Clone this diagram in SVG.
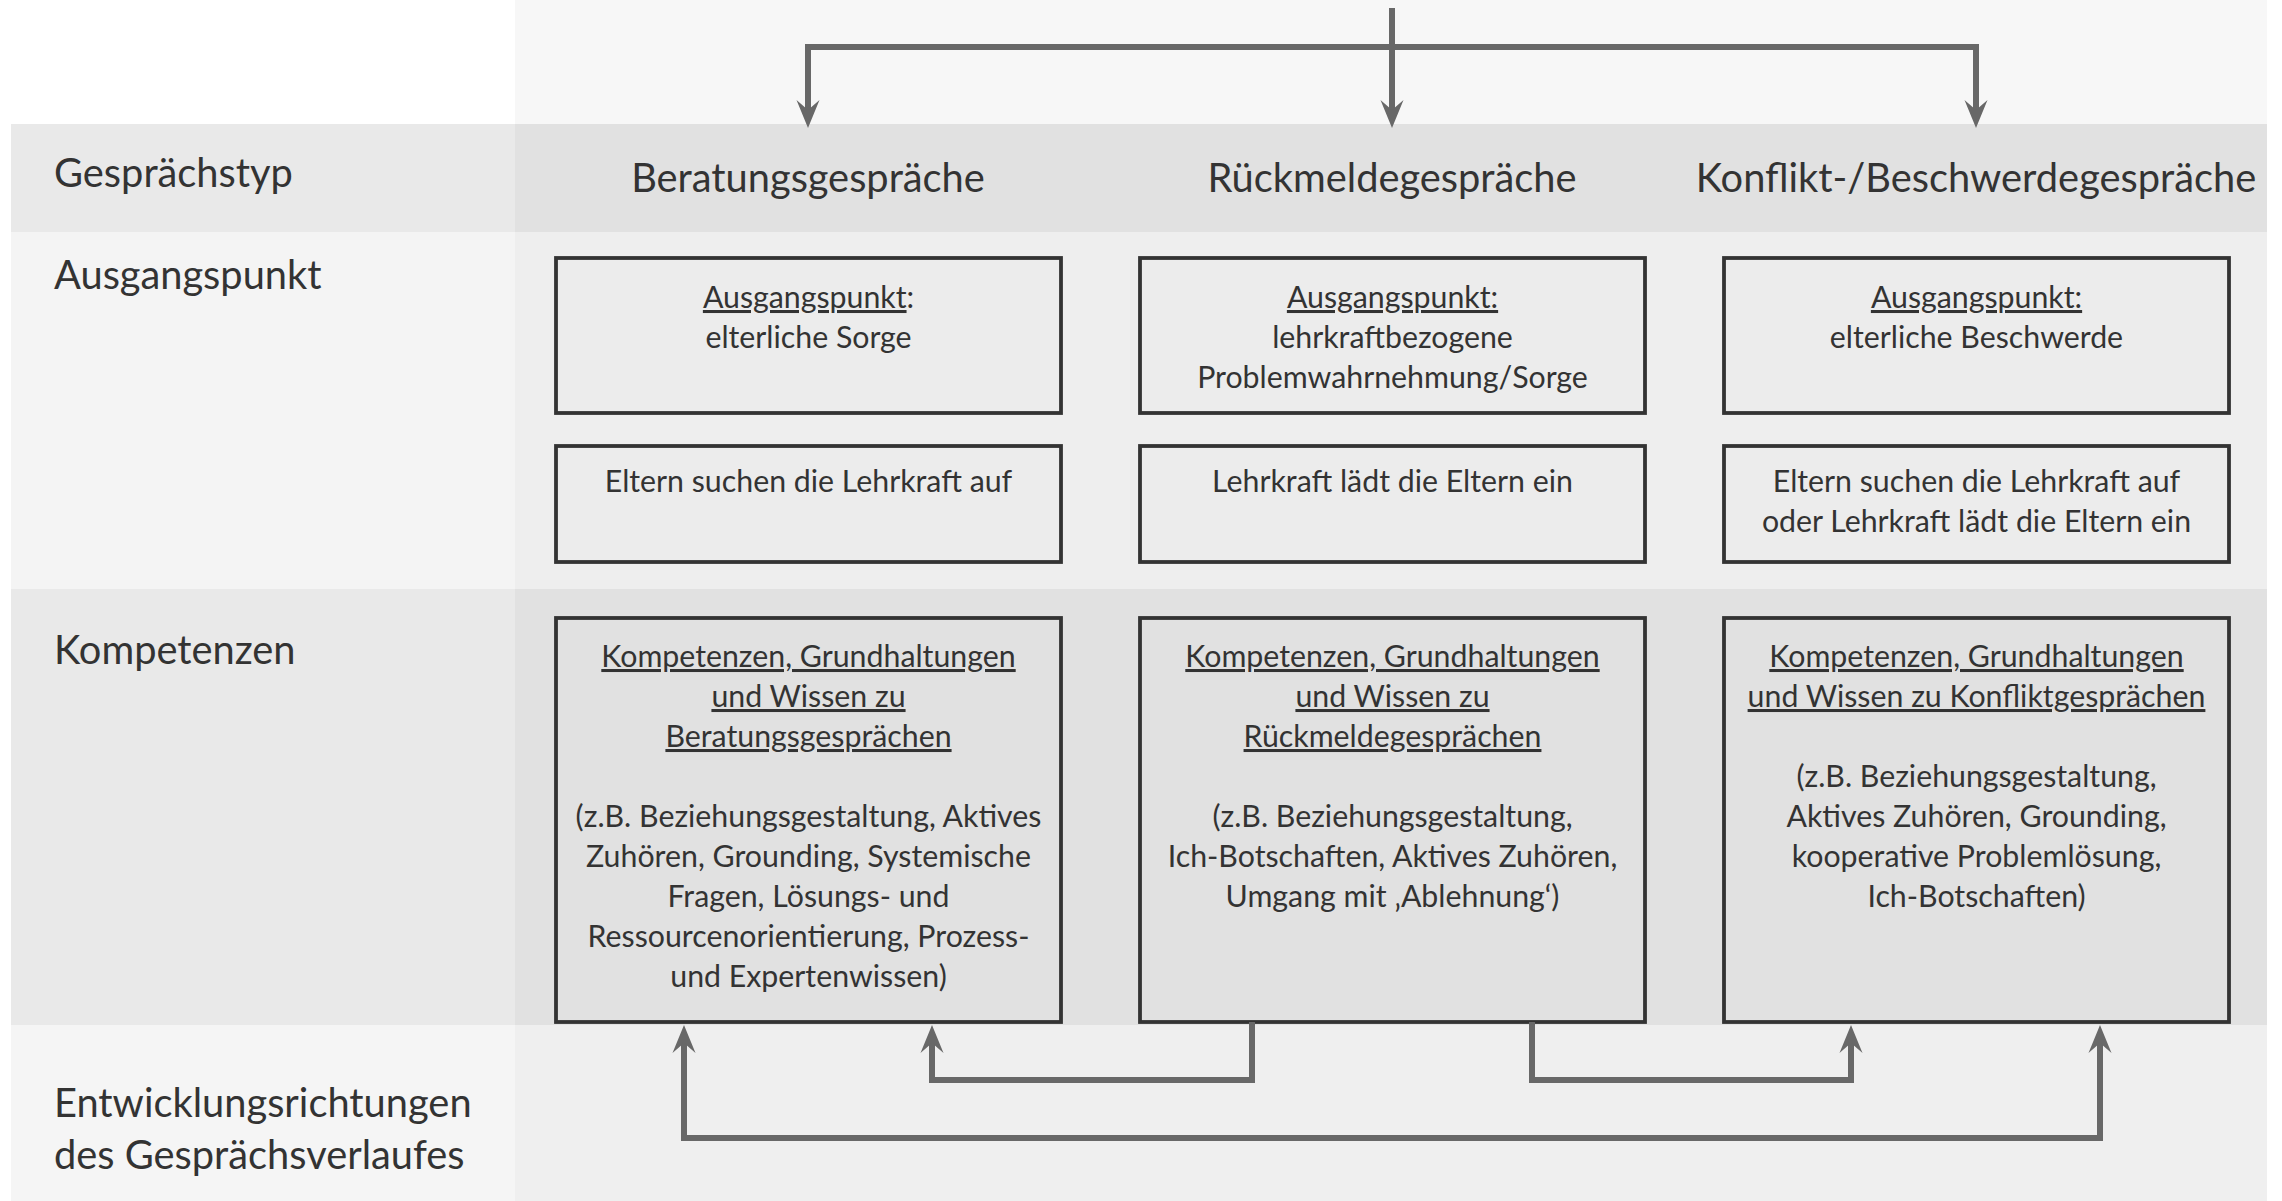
<svg xmlns="http://www.w3.org/2000/svg" width="2282" height="1201" viewBox="0 0 2282 1201">
  <style>
    text { font-family: Lato, "Open Sans", "Liberation Sans", sans-serif; fill: #333333; }
    .lbl { font-size: 39.8px; }
    .hdr { font-size: 39.8px; text-anchor: middle; }
    .bt { font-size: 30.3px; text-anchor: middle; }
    .u { text-decoration: underline; }
    .box { stroke: #333333; stroke-width: 3.8; }
    .b2 { fill: #ececec; }
    .b3 { fill: #e1e1e1; }
    .con { fill: none; stroke: #686868; stroke-width: 6; }
  </style>
  <defs>
    <marker id="ah" markerUnits="userSpaceOnUse" viewBox="-1 -13 31 26" refX="10" refY="0" markerWidth="31" markerHeight="26" orient="auto-start-reverse">
      <path d="M0,-11.5 L28,0 L0,11.5 L10,0 Z" fill="#686868"/>
    </marker>
  </defs>

  <g id="background">
    <rect x="0" y="0" width="2282" height="1201" fill="#ffffff"/>
    <rect x="515" y="0" width="1752" height="124" fill="#f7f7f7"/>
    <rect x="11" y="124" width="504" height="108" fill="#e9e9e9"/>
    <rect x="515" y="124" width="1752" height="108" fill="#e1e1e1"/>
    <rect x="11" y="232" width="504" height="357" fill="#f4f4f4"/>
    <rect x="515" y="232" width="1752" height="357" fill="#eeeeee"/>
    <rect x="11" y="589" width="504" height="436" fill="#e9e9e9"/>
    <rect x="515" y="589" width="1752" height="436" fill="#e1e1e1"/>
    <rect x="11" y="1025" width="504" height="176" fill="#f5f5f5"/>
    <rect x="515" y="1025" width="1752" height="176" fill="#efefef"/>
  </g>

  <g id="row-labels">
    <text class="lbl" x="54" y="187">Gesprächstyp</text>
    <text class="lbl" x="54" y="289">Ausgangspunkt</text>
    <text class="lbl" x="54" y="664">Kompetenzen</text>
    <text class="lbl" x="54" y="1117">Entwicklungsrichtungen</text>
    <text class="lbl" x="54" y="1169">des Gesprächsverlaufes</text>
  </g>

  <g id="headers">
    <text class="hdr" x="808" y="192">Beratungsgespräche</text>
    <text class="hdr" x="1392" y="192">Rückmeldegespräche</text>
    <text class="hdr" x="1976" y="192">Konflikt-/Beschwerdegespräche</text>
  </g>

  <g id="box-1a">
    <rect class="box b2" x="556" y="258" width="505" height="155"/>
    <text class="bt" x="808.5" y="308"><tspan class="u">Ausgangspunkt</tspan>:</text>
    <text class="bt" x="808.5" y="348">elterliche Sorge</text>
  </g>
  <g id="box-2a">
    <rect class="box b2" x="1140" y="258" width="505" height="155"/>
    <text class="bt u" x="1392.5" y="308">Ausgangspunkt:</text>
    <text class="bt" x="1392.5" y="348">lehrkraftbezogene</text>
    <text class="bt" x="1392.5" y="388">Problemwahrnehmung/Sorge</text>
  </g>
  <g id="box-3a">
    <rect class="box b2" x="1724" y="258" width="505" height="155"/>
    <text class="bt u" x="1976.5" y="308">Ausgangspunkt:</text>
    <text class="bt" x="1976.5" y="348">elterliche Beschwerde</text>
  </g>

  <g id="box-1b">
    <rect class="box b2" x="556" y="446" width="505" height="116"/>
    <text class="bt" x="808.5" y="492">Eltern suchen die Lehrkraft auf</text>
  </g>
  <g id="box-2b">
    <rect class="box b2" x="1140" y="446" width="505" height="116"/>
    <text class="bt" x="1392.5" y="492">Lehrkraft lädt die Eltern ein</text>
  </g>
  <g id="box-3b">
    <rect class="box b2" x="1724" y="446" width="505" height="116"/>
    <text class="bt" x="1976.5" y="492">Eltern suchen die Lehrkraft auf</text>
    <text class="bt" x="1976.5" y="532">oder Lehrkraft lädt die Eltern ein</text>
  </g>

  <g id="box-1c">
    <rect class="box b3" x="556" y="618" width="505" height="404"/>
    <text class="bt u" x="808.5" y="667">Kompetenzen, Grundhaltungen</text>
    <text class="bt u" x="808.5" y="707">und Wissen zu</text>
    <text class="bt u" x="808.5" y="747">Beratungsgesprächen</text>
    <text class="bt" x="808.5" y="827">(z.B. Beziehungsgestaltung, Aktives</text>
    <text class="bt" x="808.5" y="867">Zuhören, Grounding, Systemische</text>
    <text class="bt" x="808.5" y="907">Fragen, Lösungs- und</text>
    <text class="bt" x="808.5" y="947">Ressourcenorientierung, Prozess-</text>
    <text class="bt" x="808.5" y="987">und Expertenwissen)</text>
  </g>
  <g id="box-2c">
    <rect class="box b3" x="1140" y="618" width="505" height="404"/>
    <text class="bt u" x="1392.5" y="667">Kompetenzen, Grundhaltungen</text>
    <text class="bt u" x="1392.5" y="707">und Wissen zu</text>
    <text class="bt u" x="1392.5" y="747">Rückmeldegesprächen</text>
    <text class="bt" x="1392.5" y="827">(z.B. Beziehungsgestaltung,</text>
    <text class="bt" x="1392.5" y="867">Ich-Botschaften, Aktives Zuhören,</text>
    <text class="bt" x="1392.5" y="907">Umgang mit ‚Ablehnung‘)</text>
  </g>
  <g id="box-3c">
    <rect class="box b3" x="1724" y="618" width="505" height="404"/>
    <text class="bt u" x="1976.5" y="667">Kompetenzen, Grundhaltungen</text>
    <text class="bt u" x="1976.5" y="707">und Wissen zu Konfliktgesprächen</text>
    <text class="bt" x="1976.5" y="787">(z.B. Beziehungsgestaltung,</text>
    <text class="bt" x="1976.5" y="827">Aktives Zuhören, Grounding,</text>
    <text class="bt" x="1976.5" y="867">kooperative Problemlösung,</text>
    <text class="bt" x="1976.5" y="907">Ich-Botschaften)</text>
  </g>

  <g id="connectors">
    <path class="con" d="M1392,8 V110" marker-end="url(#ah)"/>
    <path class="con" d="M808,110 V47 H1976 V110" marker-start="url(#ah)" marker-end="url(#ah)"/>
    <path class="con" d="M1252,1022 V1080 H932 V1043" marker-end="url(#ah)"/>
    <path class="con" d="M1532,1022 V1080 H1851 V1043" marker-end="url(#ah)"/>
    <path class="con" d="M684,1043 V1138 H2100 V1043" marker-start="url(#ah)" marker-end="url(#ah)"/>
  </g>
</svg>
